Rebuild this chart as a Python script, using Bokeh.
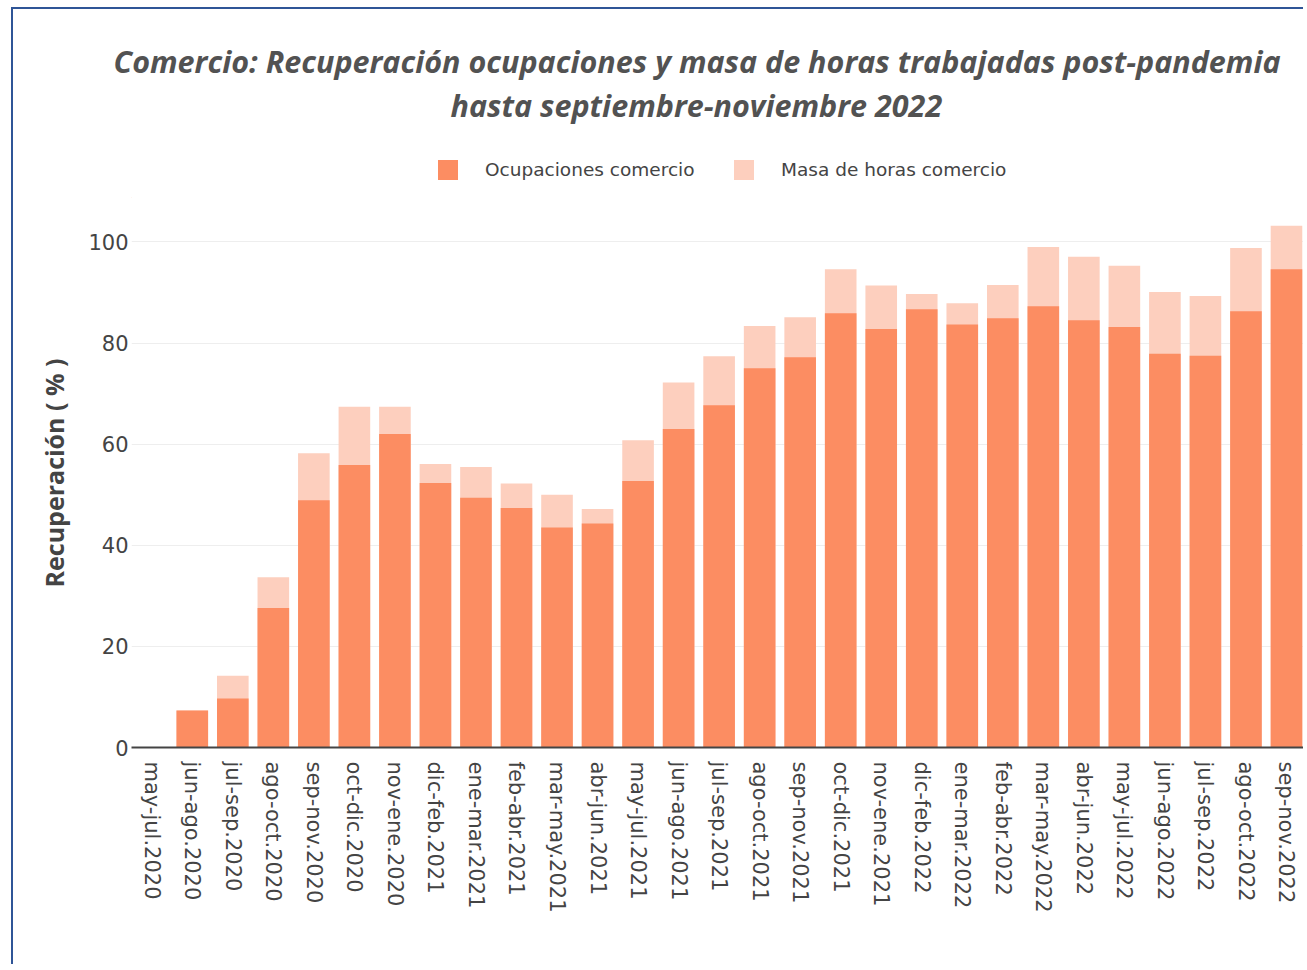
import math
from bokeh.plotting import figure
from bokeh.layouts import column
from bokeh.models import (ColumnDataSource, Range1d, FixedTicker, Title,
                          Legend, LegendItem)
from bokeh.embed import file_html
from bokeh.resources import INLINE

categories = ["may-jul.2020", "jun-ago.2020", "jul-sep.2020", "ago-oct.2020",
              "sep-nov.2020", "oct-dic.2020", "nov-ene.2020", "dic-feb.2021",
              "ene-mar.2021", "feb-abr.2021", "mar-may.2021", "abr-jun.2021",
              "may-jul.2021", "jun-ago.2021", "jul-sep.2021", "ago-oct.2021",
              "sep-nov.2021", "oct-dic.2021", "nov-ene.2021", "dic-feb.2022",
              "ene-mar.2022", "feb-abr.2022", "mar-may.2022", "abr-jun.2022",
              "may-jul.2022", "jun-ago.2022", "jul-sep.2022", "ago-oct.2022",
              "sep-nov.2022"]

ocupaciones = [float("nan"), 7.3, 9.7, 27.6, 48.9, 55.9, 62.0, 52.3,
               49.4, 47.4, 43.5, 44.3, 52.7, 63.0, 67.7, 75.0,
               77.2, 85.9, 82.8, 86.7, 83.7, 84.9, 87.3, 84.5,
               83.2, 77.9, 77.5, 86.3, 94.6]
masa_horas = [float("nan"), 7.3, 14.2, 33.7, 58.2, 67.4, 67.4, 56.1,
              55.5, 52.2, 50.0, 47.2, 60.8, 72.2, 77.4, 83.4,
              85.1, 94.6, 91.4, 89.7, 87.9, 91.5, 99.0, 97.1,
              95.3, 90.1, 89.3, 98.8, 103.2]

y_ticks = [0, 20, 40, 60, 80, 100]

title_line1 = "Comercio: Recuperación ocupaciones y masa de horas trabajadas post-pandemia"
title_line2 = "hasta septiembre-noviembre 2022"
y_title = "Recuperación ( % )"
names = ["Ocupaciones comercio", "Masa de horas comercio"]

C_OCC = "#FC8D62"
C_MASA = "#FDCFBE"
TXT = "#444444"

n = len(categories)
xs = list(range(n))
src = ColumnDataSource(dict(x=xs, occ=ocupaciones, masa=masa_horas, cat=categories))

W = 1290
LB = 118          # left border (frames of both figures are aligned)
FW = W - LB       # frame width
HH = 189          # header (title + legend) height
HM = 766          # main chart height

# ---------------- header: title and legend ----------------
hdr = figure(width=W, height=HH, output_backend="svg", toolbar_location=None,
             x_range=Range1d(0, FW), y_range=Range1d(0, 100),
             min_border_left=LB, min_border_right=0,
             min_border_top=116, min_border_bottom=0)
hdr.axis.visible = False
hdr.grid.visible = False
hdr.outline_line_color = None
hdr.background_fill_color = "white"
hdr.border_fill_color = "white"

title_style = dict(align="left", standoff=0,
                   text_font="Open Sans", text_font_size="30.5px",
                   text_font_style="bold italic", text_color="#525252")
# the figure's own title ends up on top; the added Title sits below it
hdr.title = Title(text=title_line1, offset=-18, **title_style)
hdr.add_layout(Title(text=title_line2, offset=319, **title_style), "above")

# legend proxies (placed outside the visible range)
proxy = ColumnDataSource(dict(x=[-1000], top=[1]))
h_occ = hdr.vbar(x="x", top="top", width=1, source=proxy, fill_color=C_OCC, line_color=None)
h_masa = hdr.vbar(x="x", top="top", width=1, source=proxy, fill_color=C_MASA, line_color=None)

for rend, name, xpos in ((h_occ, names[0], 304), (h_masa, names[1], 600)):
    lg = Legend(items=[LegendItem(label=name, renderers=[rend])],
                location=(xpos, 16), orientation="horizontal",
                glyph_width=25, glyph_height=25, label_height=25,
                label_standoff=25, padding=0, margin=0, spacing=0,
                border_line_color=None, background_fill_alpha=0,
                label_text_font="DejaVu Sans", label_text_font_size="18.5px",
                label_text_color=TXT, label_text_baseline="middle")
    hdr.add_layout(lg, "center")

# ---------------- main chart ----------------
p = figure(width=W, height=HM, output_backend="svg", toolbar_location=None,
           x_range=Range1d(-0.5, n - 1 + 0.42), y_range=Range1d(0, 108.6),
           min_border_left=LB, min_border_right=0, min_border_top=0,
           min_border_bottom=217)
p.outline_line_color = None
p.background_fill_color = "white"
p.border_fill_color = "white"

p.vbar(x="x", top="masa", width=0.78, source=src, fill_color=C_MASA, line_color=None)
p.vbar(x="x", top="occ", width=0.78, source=src, fill_color=C_OCC, line_color=None)

xa = p.xaxis[0]
xa.ticker = FixedTicker(ticks=xs)
xa.major_label_overrides = {i: c for i, c in enumerate(categories)}
xa.major_label_orientation = -math.pi / 2
xa.major_label_text_font = "DejaVu Sans"
xa.major_label_text_font_size = "21px"
xa.major_label_text_color = TXT
xa.major_label_standoff = 14
xa.major_tick_out = 0
xa.major_tick_in = 0
xa.major_tick_line_color = None
xa.minor_tick_line_color = None
xa.axis_line_color = "#444444"
xa.axis_line_width = 2
p.xgrid.grid_line_color = None

ya = p.yaxis[0]
ya.ticker = FixedTicker(ticks=y_ticks)
ya.major_label_text_font = "DejaVu Sans"
ya.major_label_text_font_size = "21px"
ya.major_label_text_color = TXT
ya.major_label_standoff = 3
ya.major_tick_out = 0
ya.major_tick_in = 0
ya.major_tick_line_color = None
ya.minor_tick_line_color = None
ya.axis_line_color = None
ya.axis_label = y_title
ya.axis_label_text_font = "Open Sans"
ya.axis_label_text_font_size = "25px"
ya.axis_label_text_font_style = "bold"
ya.axis_label_text_color = TXT
ya.axis_label_standoff = 14
p.ygrid.grid_line_color = "#eeeeee"
p.ygrid.grid_line_width = 1

layout = column(hdr, p, spacing=0)
layout.margin = (7, 0, 0, 11)
layout.styles = {"border-left": "2px solid #2F5597", "border-top": "2px solid #2F5597"}

open("out.html", "w").write(file_html(layout, INLINE))
